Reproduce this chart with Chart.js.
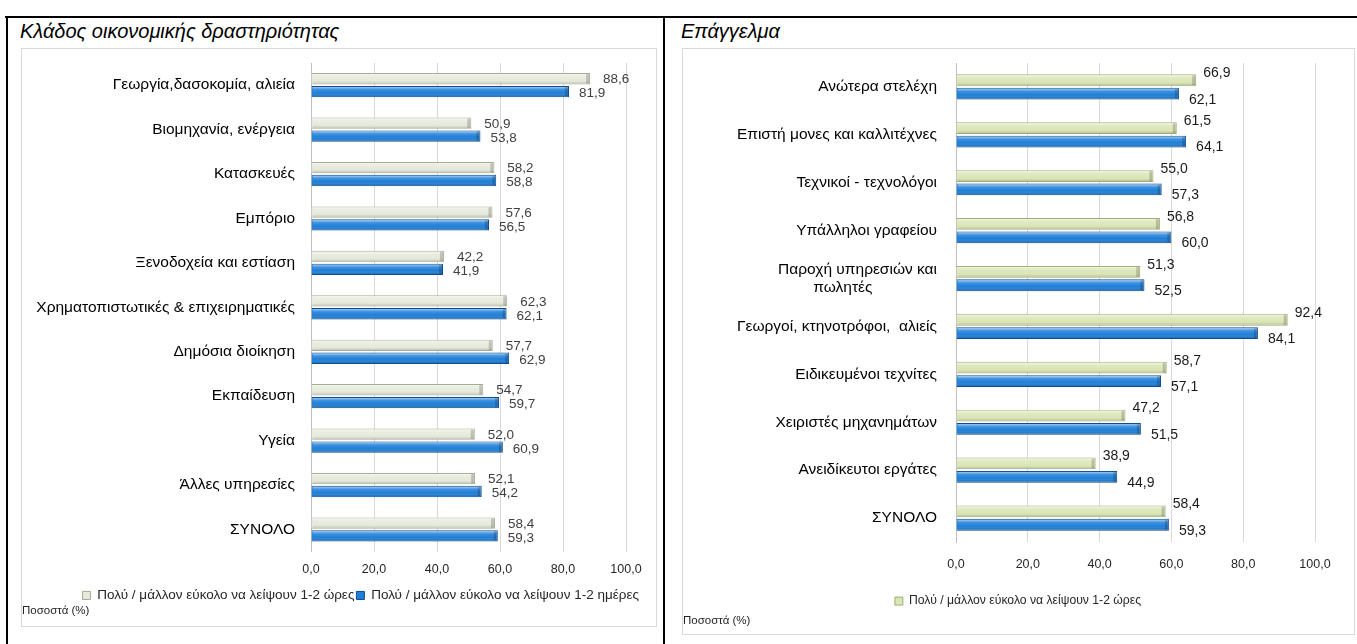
<!DOCTYPE html>
<html>
<head>
<meta charset="utf-8">
<script src="https://cdn.jsdelivr.net/npm/chart.js@4/dist/chart.umd.min.js"></script>
<style>
  body { margin: 0; background: #fff; font-family: "Liberation Sans", Arial, sans-serif; }
  .frame { position: absolute; background: #000; }
  .box { position: absolute; border: 1px solid #d9d9d9; background: #fff; }
  .ttl { position: absolute; font-style: italic; font-size: 20px; color: #000; }
  canvas { position: absolute; }
</style>
</head>
<body>
<!-- panel frames -->
<div class="frame" style="left:5px;top:16px;width:1352px;height:2px"></div>
<div class="frame" style="left:6px;top:16px;width:2px;height:628px"></div>
<div class="frame" style="left:663px;top:16px;width:2px;height:628px"></div>

<div class="ttl" style="left:20px;top:20px">Κλάδος οικονομικής δραστηριότητας</div>
<div class="ttl" style="left:681px;top:20px">Επάγγελμα</div>

<div class="box" style="left:21px;top:48px;width:634px;height:577px"></div>
<div class="box" style="left:682px;top:48px;width:671px;height:585px"></div>

<canvas id="sectorChart" style="left:22px;top:49px" width="633" height="576"></canvas>
<canvas id="jobChart" style="left:683px;top:49px" width="670" height="584"></canvas>

<script>
// κλάδος οικονομικής δραστηριότητας
const sectorLabels = [
    'Γεωργία,δασοκομία, αλιεία',
    'Βιομηχανία, ενέργεια',
    'Κατασκευές',
    'Εμπόριο',
    'Ξενοδοχεία και εστίαση',
    'Χρηματοπιστωτικές & επιχειρηματικές',
    'Δημόσια διοίκηση',
    'Εκπαίδευση',
    'Υγεία',
    'Άλλες υπηρεσίες',
    'ΣΥΝΟΛΟ'
];
const sectorHours = [88.6, 50.9, 58.2, 57.6, 42.2, 62.3, 57.7, 54.7, 52.0, 52.1, 58.4];
const sectorDays = [81.9, 53.8, 58.8, 56.5, 41.9, 62.1, 62.9, 59.7, 60.9, 54.2, 59.3];

// επάγγελμα
const jobLabels = [
    'Ανώτερα στελέχη',
    'Επιστή μονες και καλλιτέχνες',
    'Τεχνικοί - τεχνολόγοι',
    'Υπάλληλοι γραφείου',
    ['Παροχή υπηρεσιών και', 'πωλητές               '],
    'Γεωργοί, κτηνοτρόφοι,  αλιείς',
    'Ειδικευμένοι τεχνίτες',
    'Χειριστές μηχανημάτων',
    'Ανειδίκευτοι εργάτες',
    'ΣΥΝΟΛΟ'
];
const jobHours = [66.9, 61.5, 55.0, 56.8, 51.3, 92.4, 58.7, 47.2, 38.9, 58.4];
const jobDays = [62.1, 64.1, 57.3, 60.0, 52.5, 84.1, 57.1, 51.5, 44.9, 59.3];

const xTicks = [0, 20, 40, 60, 80, 100];

const seriesNames = ['Πολύ / μάλλον εύκολο να λείψουν 1-2 ώρες', 'Πολύ / μάλλον εύκολο να λείψουν 1-2 ημέρες'];

const fmt = v => Number(v).toFixed(1).replace('.', ',');

// γυάλινο εφέ στις μπάρες + ετικέτες τιμών
const barLook = {
    id: 'barLook',
    afterDatasetsDraw(chart, args, opts) {
        const ctx = chart.ctx;
        chart.data.datasets.forEach((ds, di) => {
            const meta = chart.getDatasetMeta(di);
            if (meta.hidden) return;
            meta.data.forEach((bar, i) => {
                const top = bar.y - bar.height / 2;
                const h = bar.height;
                const left = bar.base;
                const w = bar.x - bar.base;
                const g = ctx.createLinearGradient(0, top, 0, top + h);
                g.addColorStop(0, 'rgba(255,255,255,0.75)');
                g.addColorStop(0.3, 'rgba(255,255,255,0.15)');
                g.addColorStop(0.6, 'rgba(255,255,255,0)');
                g.addColorStop(1, 'rgba(0,0,0,0.28)');
                ctx.save();
                ctx.fillStyle = g;
                ctx.fillRect(left + 1, top + 1, w - 2, h - 2);
                // στρογγυλεμένο άκρο
                ctx.fillStyle = 'rgba(0,0,0,0.18)';
                ctx.fillRect(bar.x - 4, top + 1, 3, h - 2);
                ctx.restore();

                const off = opts.offsets[di];
                ctx.save();
                ctx.font = opts.font;
                ctx.fillStyle = opts.color;
                ctx.textAlign = 'left';
                ctx.textBaseline = 'middle';
                ctx.fillText(fmt(ds.data[i]), bar.x + off[0], bar.y + off[1]);
                ctx.restore();
            });
        });
    }
};

function makeChart(id, labels, hours, days, cfg) {
    return new Chart(document.getElementById(id).getContext('2d'), {
        type: 'bar',
        data: {
            labels: labels,
            datasets: [{
                label: seriesNames[0],
                data: hours,
                backgroundColor: cfg.green,
                borderColor: cfg.greenEdge,
                borderWidth: 1,
                categoryPercentage: cfg.catPct,
                barPercentage: 0.88
            }, {
                label: seriesNames[1],
                data: days,
                backgroundColor: '#1f7fd8',
                borderColor: '#0b4c95',
                borderWidth: 1,
                categoryPercentage: cfg.catPct,
                barPercentage: 0.88
            }]
        },
        options: {
            indexAxis: 'y',
            responsive: false,
            animation: false,
            layout: { padding: { top: 14, right: cfg.layoutRight, left: 0, bottom: 0 } },
            plugins: {
                legend: {
                    position: 'bottom',
                    align: cfg.legendAlign,
                    labels: {
                        boxWidth: 8,
                        boxHeight: 8,
                        padding: cfg.legendPad,
                        color: '#262626',
                        font: { family: 'Liberation Sans', size: cfg.legendSize },
                        filter: item => cfg.legendAll || item.datasetIndex === 0
                    }
                },
                title: {
                    display: true,
                    text: 'Ποσοστά (%)',
                    position: 'bottom',
                    align: 'start',
                    color: '#262626',
                    font: { family: 'Liberation Sans', size: 11.5, weight: 'normal' },
                    padding: cfg.titlePad
                },
                tooltip: { enabled: false },
                barLook: {
                    offsets: cfg.labelOffsets,
                    color: cfg.labelColor,
                    font: cfg.labelFont
                }
            },
            scales: {
                x: {
                    min: 0,
                    max: 100,
                    afterBuildTicks: axis => { axis.ticks = xTicks.map(v => ({ value: v })); },
                    afterFit: axis => { axis.paddingLeft = 0; axis.paddingRight = cfg.plotRight; },
                    grid: { color: '#d9d9d9', drawTicks: false },
                    border: { display: false },
                    ticks: {
                        padding: cfg.xTickPad,
                        color: '#262626',
                        font: { family: 'Liberation Sans', size: 12.5 },
                        callback: v => fmt(v)
                    }
                },
                y: {
                    afterFit: axis => {
                        axis.width = cfg.yWidth;
                        axis.paddingTop = 0;
                        axis.paddingBottom = 0;
                    },
                    grid: { display: false, drawTicks: false },
                    border: { color: '#bfbfbf' },
                    ticks: {
                        padding: cfg.yTickPad,
                        color: '#000',
                        font: { family: 'Liberation Sans', size: 15.5 }
                    }
                }
            }
        },
        plugins: [barLook]
    });
}

makeChart('sectorChart', sectorLabels, sectorHours, sectorDays, {
    green: '#e6eadb',
    greenEdge: '#a5ab94',
    catPct: 0.58,
    layoutRight: 14,
    plotRight: 29,
    yWidth: 289,
    yTickPad: 16,
    xTickPad: 10,
    legendAll: true,
    legendAlign: 'end',
    legendPad: 2,
    legendSize: 13.5,
    titlePad: { top: -8, bottom: 7 },
    labelOffsets: [[13, 1], [10, 2]],
    labelColor: '#404040',
    labelFont: '13.5px "Liberation Sans"'
});

makeChart('jobChart', jobLabels, jobHours, jobDays, {
    green: '#dbe6b6',
    greenEdge: '#9fae74',
    catPct: 0.56,
    layoutRight: 0,
    plotRight: 38,
    yWidth: 273,
    yTickPad: 19,
    xTickPad: 15,
    legendAll: false,
    legendAlign: 'center',
    legendPad: 8,
    legendSize: 12.2,
    titlePad: { top: -3, bottom: 5 },
    labelOffsets: [[7, -7], [10, 6]],
    labelColor: '#1a1a1a',
    labelFont: '14px "Liberation Sans"'
});
</script>
</body>
</html>
